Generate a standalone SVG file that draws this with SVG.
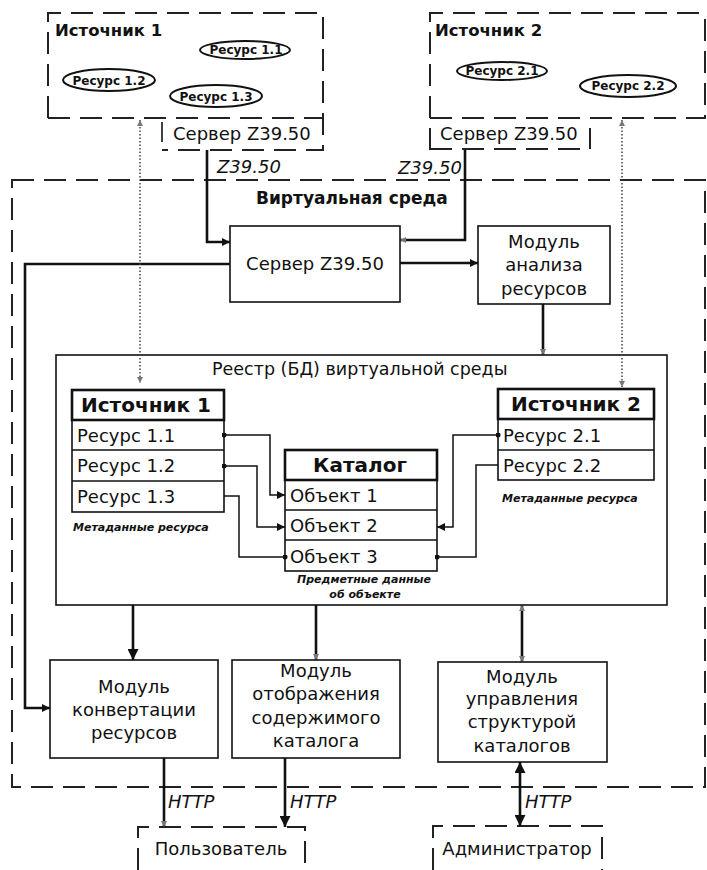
<svg xmlns="http://www.w3.org/2000/svg" width="707" height="870" viewBox="0 0 707 870">
<style>
text{font-family:"DejaVu Sans","Liberation Sans",sans-serif;fill:#111}
.b{font-weight:bold}
.i{font-style:italic}
.dash{fill:none;stroke:#222;stroke-width:2;stroke-dasharray:22 10}
.box{fill:#fff;stroke:#111;stroke-width:1.6}
.hdr{fill:#fff;stroke:#111;stroke-width:2.6}
.ell{fill:none;stroke:#111;stroke-width:2}
.c{fill:none;stroke:#111;stroke-width:2.6}
.ci{fill:none;stroke:#111;stroke-width:1.5}
.dot{fill:none;stroke:#444;stroke-width:1.5;stroke-dasharray:1.5 2}
.m{font-size:18px;text-anchor:middle}
.r{font-size:18px}
.h{font-size:20px;font-weight:bold;text-anchor:middle}
.e{font-size:12px;font-weight:bold;text-anchor:middle}
.t{font-size:11px;font-weight:bold;font-style:italic}
</style>
<defs>
<marker id="ah" viewBox="0 0 10 10" refX="10" refY="5" markerWidth="10" markerHeight="8" markerUnits="userSpaceOnUse" orient="auto"><path d="M0,0L10,5L0,10z" fill="#111"/></marker>
<marker id="al" viewBox="0 0 10 10" refX="10" refY="5" markerWidth="13" markerHeight="11" markerUnits="userSpaceOnUse" orient="auto-start-reverse"><path d="M0,0L10,5L0,10z" fill="#111"/></marker>
<marker id="ag" viewBox="0 0 10 10" refX="10" refY="5" markerWidth="7" markerHeight="6" markerUnits="userSpaceOnUse" orient="auto-start-reverse"><path d="M0,0L10,5L0,10z" fill="#777"/></marker>
<marker id="ad" viewBox="0 0 10 10" refX="5" refY="5" markerWidth="5" markerHeight="5" markerUnits="userSpaceOnUse"><circle cx="5" cy="5" r="5" fill="#111"/></marker>
</defs>
<rect width="707" height="870" fill="#fff"/>

<g id="virtual-env">
<rect class="dash" x="12" y="180" width="693" height="607"/>
<text class="b" x="256" y="204" font-size="17">Виртуальная среда</text>
</g>

<g id="source1">
<path class="dash" d="M48,118V13H323V150H162M48,118H323"/>
<path d="M162,122V142" stroke="#111" stroke-width="1.6"/>
<text class="b" x="55" y="36" font-size="16.5">Источник 1</text>
<ellipse class="ell" cx="245" cy="50" rx="45" ry="9"/>
<text class="e" x="246" y="54">Ресурс 1.1</text>
<ellipse class="ell" cx="109" cy="80" rx="46" ry="11"/>
<text class="e" x="109" y="85">Ресурс 1.2</text>
<ellipse class="ell" cx="216" cy="96" rx="46" ry="11"/>
<text class="e" x="216" y="101">Ресурс 1.3</text>
<text class="r" x="173" y="140">Сервер Z39.50</text>
</g>

<g id="source2">
<path class="dash" d="M430,150V13H707M430,118H705V13M430,149H590V128"/>
<text class="b" x="435" y="36" font-size="16.5">Источник 2</text>
<ellipse class="ell" cx="502" cy="71" rx="45" ry="9"/>
<text class="e" x="502" y="75">Ресурс 2.1</text>
<ellipse class="ell" cx="628" cy="86" rx="48" ry="11"/>
<text class="e" x="628" y="90">Ресурс 2.2</text>
<text class="r" x="440" y="140">Сервер Z39.50</text>
</g>

<g id="server">
<rect class="box" x="230" y="226" width="170" height="76"/>
<text class="m" x="315" y="270">Сервер Z39.50</text>
</g>

<g id="analysis">
<rect class="box" x="478" y="226" width="132" height="78"/>
<text class="m" x="544" y="248">Модуль</text>
<text class="m" x="544" y="271">анализа</text>
<text class="m" x="544" y="295">ресурсов</text>
</g>

<g id="registry">
<rect class="box" x="56" y="355" width="611" height="250"/>
<text x="212" y="375" font-size="17.5">Реестр (БД) виртуальной среды</text>
</g>

<g id="reg-source1">
<rect class="box" x="72" y="420" width="152" height="92"/>
<path d="M72,450H224M72,481H224" stroke="#111" stroke-width="1.6"/>
<rect class="hdr" x="72" y="390" width="152" height="30"/>
<text class="h" x="146" y="412">Источник 1</text>
<text class="r" x="77" y="442">Ресурс 1.1</text>
<text class="r" x="77" y="472">Ресурс 1.2</text>
<text class="r" x="77" y="503">Ресурс 1.3</text>
<text class="t" x="73" y="531">Метаданные ресурса</text>
</g>

<g id="catalog">
<rect class="box" x="285" y="480" width="152" height="91"/>
<path d="M285,510H437M285,540H437" stroke="#111" stroke-width="1.6"/>
<rect class="hdr" x="285" y="450" width="152" height="30"/>
<text class="h" x="360" y="472">Каталог</text>
<text class="r" x="290" y="502">Объект 1</text>
<text class="r" x="290" y="532">Объект 2</text>
<text class="r" x="290" y="563">Объект 3</text>
<text class="t" x="364" y="583" text-anchor="middle">Предметные данные</text>
<text class="t" x="365" y="598" text-anchor="middle">об объекте</text>
</g>

<g id="reg-source2">
<rect class="box" x="498" y="419" width="156" height="61"/>
<path d="M498,450H654" stroke="#111" stroke-width="1.6"/>
<rect class="hdr" x="498" y="389" width="156" height="30"/>
<text class="h" x="576" y="411">Источник 2</text>
<text class="r" x="503" y="442">Ресурс 2.1</text>
<text class="r" x="503" y="472">Ресурс 2.2</text>
<text class="t" x="502" y="502">Метаданные ресурса</text>
</g>

<g id="conversion">
<rect class="box" x="50" y="660" width="168" height="98"/>
<text class="m" x="134" y="693">Модуль</text>
<text class="m" x="134" y="716">конвертации</text>
<text class="m" x="134" y="739">ресурсов</text>
</g>

<g id="display">
<rect class="box" x="232" y="660" width="168" height="98"/>
<text class="m" x="316" y="677">Модуль</text>
<text class="m" x="316" y="700">отображения</text>
<text class="m" x="316" y="724">содержимого</text>
<text class="m" x="316" y="747">каталога</text>
</g>

<g id="management">
<rect class="box" x="438" y="662" width="169" height="100"/>
<text class="m" x="522" y="683">Модуль</text>
<text class="m" x="522" y="705">управления</text>
<text class="m" x="522" y="728">структурой</text>
<text class="m" x="522" y="752">каталогов</text>
</g>

<g id="user">
<path class="dash" d="M138,870V827H305V870"/>
<text class="m" x="221" y="855">Пользователь</text>
</g>

<g id="admin">
<path class="dash" d="M433,870V826H602V870"/>
<text class="m" x="517" y="855">Администратор</text>
</g>

<g id="connectors">
<path class="c" d="M207,150V242H230" marker-end="url(#ah)"/>
<path class="c" d="M465,150V240H400" marker-end="url(#ag)"/>
<path class="c" d="M400,263H478" marker-end="url(#ah)"/>
<path class="c" d="M230,264H25V708H50" marker-end="url(#ah)"/>
<path class="c" d="M543,304V355" marker-end="url(#ag)"/>
<path class="dot" d="M140,120V383" marker-start="url(#ag)" marker-end="url(#ag)"/>
<path class="dot" d="M622,120V387" marker-start="url(#ag)" marker-end="url(#ag)"/>
<path class="c" d="M133,605V660" marker-end="url(#al)"/>
<path class="c" d="M316,605V660" marker-end="url(#ag)"/>
<path class="c" d="M522,605V662" marker-start="url(#ag)" marker-end="url(#ag)"/>
<path class="c" d="M164,758V827" marker-end="url(#ag)"/>
<path class="c" d="M285,758V827" marker-end="url(#al)"/>
<path class="c" d="M520,762V826" marker-start="url(#al)" marker-end="url(#al)"/>
<path class="ci" d="M224,435H270V495H285" marker-start="url(#ad)" marker-end="url(#ah)"/>
<path class="ci" d="M224,466H257V527H285" marker-start="url(#ad)" marker-end="url(#ah)"/>
<path class="ci" d="M224,496H239V557H285" marker-end="url(#ad)"/>
<path class="ci" d="M498,435H453V527H437" marker-start="url(#ad)" marker-end="url(#ah)"/>
<path class="ci" d="M498,465H476V557H437" marker-end="url(#ad)"/>
<text class="i" x="217" y="173" font-size="18">Z39.50</text>
<text class="i" x="398" y="174" font-size="18">Z39.50</text>
<text class="i" x="168" y="808" font-size="18">HTTP</text>
<text class="i" x="290" y="808" font-size="18">HTTP</text>
<text class="i" x="525" y="808" font-size="18">HTTP</text>
</g>
</svg>
